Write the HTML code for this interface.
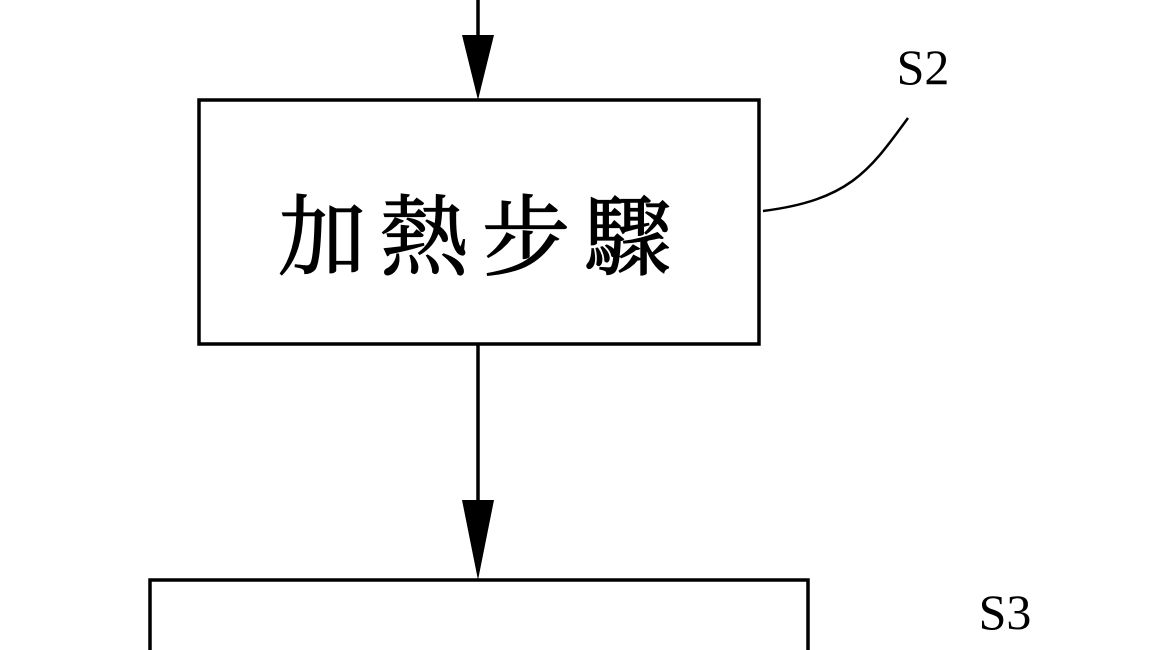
<!DOCTYPE html>
<html><head><meta charset="utf-8"><style>
html,body{margin:0;padding:0;background:#fff;width:1170px;height:650px;overflow:hidden}
</style></head><body>
<svg width="1170" height="650" viewBox="0 0 1170 650" xmlns="http://www.w3.org/2000/svg">
<line x1="478" y1="0" x2="478" y2="60" stroke="#000" stroke-width="3.5"/>
<polygon points="462,35 494,35 478,100" fill="#000"/>
<rect x="199" y="100" width="560" height="244" fill="none" stroke="#000" stroke-width="3.5"/>
<text x="482" y="268" font-family="'Liberation Serif','Noto Serif CJK SC',serif" font-size="88" text-anchor="middle" letter-spacing="14" stroke="#000" stroke-width="1.2">加熱步驟</text>
<text x="923" y="84" font-family="'Liberation Serif',serif" font-size="50" text-anchor="middle">S2</text>
<path d="M763,211 C850,200 870,170 908,118" fill="none" stroke="#000" stroke-width="2.5"/>
<line x1="478" y1="344" x2="478" y2="520" stroke="#000" stroke-width="3.5"/>
<polygon points="462,500 494,500 478,580" fill="#000"/>
<rect x="150" y="580" width="658" height="90" fill="none" stroke="#000" stroke-width="3.5"/>
<text x="1005" y="629" font-family="'Liberation Serif',serif" font-size="50" text-anchor="middle">S3</text>
</svg>
</body></html>
